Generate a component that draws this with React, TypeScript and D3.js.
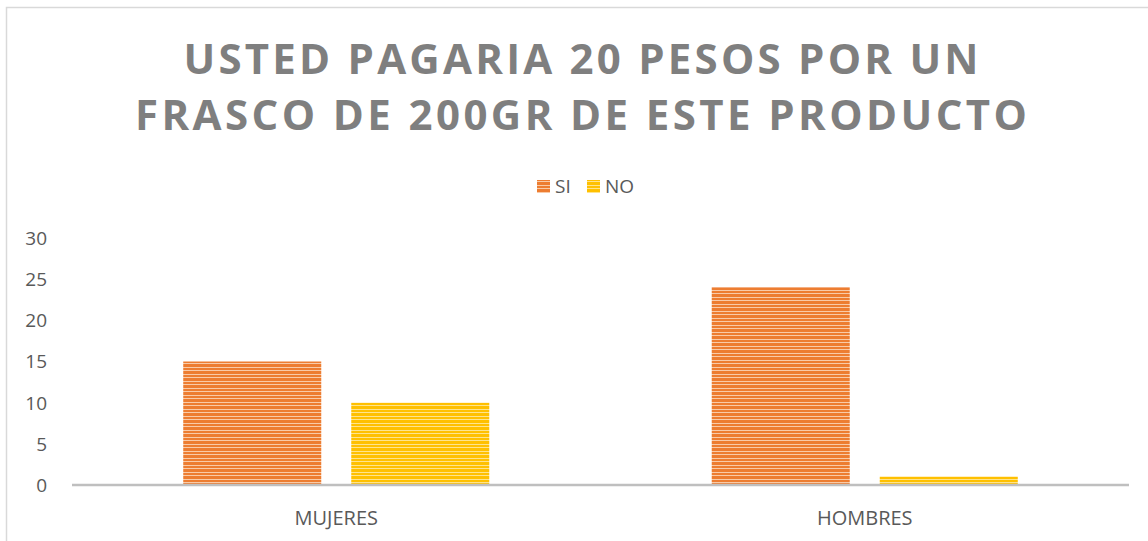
import React, { useRef, useEffect } from 'react';
import * as d3 from 'd3';

const categories = ['MUJERES', 'HOMBRES'];
const seriesNames = ['SI', 'NO'];
const siValues = [15, 24];
const noValues = [10, 1];
const yTicks = [0, 5, 10, 15, 20, 25, 30];
const titleLines = ['USTED PAGARIA 20 PESOS POR UN', 'FRASCO DE 200GR DE ESTE PRODUCTO'];

const colors = { SI: ['#ED7D31', '#F9CBA8'], NO: ['#FFC000', '#FFE48C'] };

const App = () => {
  const svgRef = useRef<SVGSVGElement>(null);

  useEffect(() => {
    const width = 1148;
    const height = 541;
    const svg = d3.select(svgRef.current).attr('width', width).attr('height', height);
    svg.selectAll('*').remove();

    // patrones de rayas
    const defs = svg.append('defs');
    seriesNames.forEach((s) => {
      const [dark, light] = colors[s as 'SI' | 'NO'];
      const p = defs.append('pattern')
        .attr('id', `stripe-${s}`)
        .attr('patternUnits', 'userSpaceOnUse')
        .attr('width', 8)
        .attr('height', 7);
      p.append('rect').attr('width', 8).attr('height', 7).attr('fill', light);
      p.append('rect').attr('y', 0).attr('width', 8).attr('height', 3).attr('fill', dark);
      p.append('rect').attr('y', 4).attr('width', 8).attr('height', 2).attr('fill', dark);
    });

    // borde
    svg.append('path')
      .attr('d', `M6.5,${height} V7.5 H${width}`)
      .attr('fill', 'none')
      .attr('stroke', '#D9D9D9')
      .attr('stroke-width', 1.5);

    // titulo
    titleLines.forEach((t, i) => {
      svg.append('text')
        .attr('x', 581)
        .attr('y', 74 + i * 56)
        .attr('text-anchor', 'middle')
        .attr('font-family', 'Open Sans, sans-serif')
        .attr('font-weight', 700)
        .attr('font-size', 42)
        .attr('fill', '#7F7F7F')
        .attr('textLength', i === 0 ? 795 : 892)
        .attr('lengthAdjust', 'spacing')
        .text(t);
    });

    const left = 72;
    const right = 1129;
    const x0 = d3.scaleBand().domain(categories).range([left, right]);
    const x1 = d3.scaleBand().domain(seriesNames).range([0, x0.bandwidth()]).paddingInner(0.1786).paddingOuter(0.662);
    const y = d3.scaleLinear().domain([0, 30]).range([485, 238]);

    // eje y
    yTicks.forEach((v) => {
      svg.append('text')
        .attr('x', 47)
        .attr('y', y(v))
        .attr('dy', '0.36em')
        .attr('text-anchor', 'end')
        .attr('font-family', 'Open Sans, sans-serif')
        .attr('font-size', 19)
        .attr('fill', '#595959')
        .text(v);
    });

    // barras
    const data: { [k: string]: number[] } = { SI: siValues, NO: noValues };
    categories.forEach((c, ci) => {
      seriesNames.forEach((s) => {
        const v = data[s][ci];
        svg.append('rect')
          .attr('x', (x0(c) ?? 0) + (x1(s) ?? 0))
          .attr('y', y(v))
          .attr('width', x1.bandwidth())
          .attr('height', y(0) - y(v))
          .attr('fill', `url(#stripe-${s})`);
      });
    });

    // eje x
    svg.append('line')
      .attr('x1', left).attr('x2', right)
      .attr('y1', y(0)).attr('y2', y(0))
      .attr('stroke', '#BFBFBF')
      .attr('stroke-width', 2.5);

    categories.forEach((c) => {
      svg.append('text')
        .attr('x', (x0(c) ?? 0) + x0.bandwidth() / 2)
        .attr('y', 525)
        .attr('text-anchor', 'middle')
        .attr('font-family', 'Open Sans, sans-serif')
        .attr('font-size', 20)
        .attr('fill', '#595959')
        .text(c);
    });

    // leyenda
    const legendX = [537, 587];
    seriesNames.forEach((s, i) => {
      svg.append('rect')
        .attr('x', legendX[i]).attr('y', 180)
        .attr('width', 13).attr('height', 13)
        .attr('fill', `url(#stripe-${s})`);
      svg.append('text')
        .attr('x', legendX[i] + 18)
        .attr('y', 193)
        .attr('font-family', 'Open Sans, sans-serif')
        .attr('font-size', 19)
        .attr('fill', '#595959')
        .text(s);
    });
  }, []);

  return (
    <div style={{ position: 'fixed', left: 0, top: 0, width: 1148, height: 541, background: '#fff' }}>
      <svg ref={svgRef} style={{ display: 'block' }}></svg>
    </div>
  );
};

export default App;
